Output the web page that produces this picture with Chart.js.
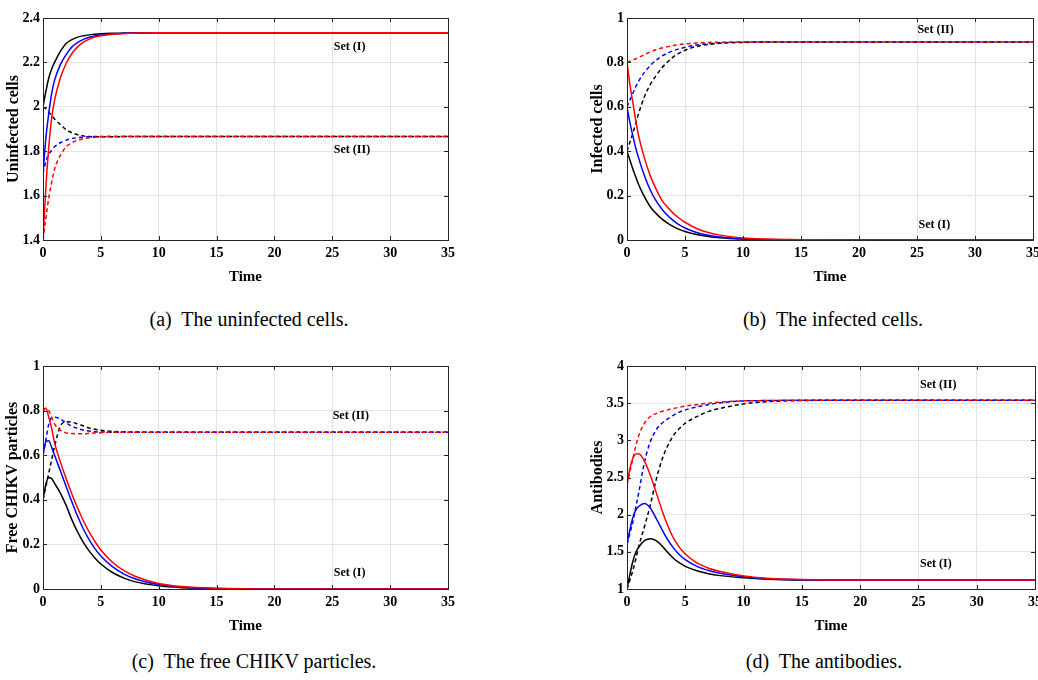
<!DOCTYPE html>
<html>
<head>
<meta charset="utf-8">
<script src="https://cdn.jsdelivr.net/npm/chart.js@4.4.1/dist/chart.umd.min.js"></script>
<style>
  html, body { margin: 0; padding: 0; background: #fff; overflow: hidden; }
  body { width: 1038px; height: 680px; position: relative; }
  .panel { position: absolute; }
  .caption { position: absolute; font-family: "Liberation Serif", "DejaVu Serif", serif; font-size: 20px; line-height: 23px; color: #000; transform: translateX(-50%); white-space: pre; }
</style>
</head>
<body>
<div class="panel" style="left:0px;top:0px;width:460px;height:300px"><canvas id="chartA" width="460" height="300"></canvas></div>
<div class="panel" style="left:580px;top:0px;width:470px;height:300px"><canvas id="chartB" width="470" height="300"></canvas></div>
<div class="panel" style="left:0px;top:350px;width:460px;height:300px"><canvas id="chartC" width="460" height="300"></canvas></div>
<div class="panel" style="left:580px;top:350px;width:470px;height:300px"><canvas id="chartD" width="470" height="300"></canvas></div>

<div class="caption" style="left:249px;top:308px">(a)  The uninfected cells.</div>
<div class="caption" style="left:833px;top:308px">(b)  The infected cells.</div>
<div class="caption" style="left:254px;top:650px">(c)  The free CHIKV particles.</div>
<div class="caption" style="left:824px;top:650px">(d)  The antibodies.</div>

<script>
// temps commun à toutes les courbes
const timePoints = [0, 0.25, 0.5, 0.75, 1, 1.5, 2, 2.5, 3, 3.5, 4, 4.5, 5, 6, 7, 8, 10, 12, 15, 20, 25, 35];
const xTicks = [0, 5, 10, 15, 20, 25, 30, 35];

// (a) cellules non infectées
const uninfBlackI = [2.0, 2.07, 2.13, 2.17, 2.2, 2.25, 2.285, 2.303, 2.314, 2.32, 2.324, 2.327, 2.329, 2.331, 2.332, 2.333, 2.333, 2.333, 2.333, 2.333, 2.333, 2.333];
const uninfBlueI  = [1.7, 1.86, 1.97, 2.06, 2.12, 2.19, 2.235, 2.27, 2.29, 2.304, 2.313, 2.319, 2.323, 2.329, 2.331, 2.332, 2.333, 2.333, 2.333, 2.333, 2.333, 2.333];
const uninfRedI   = [1.4, 1.64, 1.82, 1.95, 2.03, 2.13, 2.195, 2.24, 2.27, 2.291, 2.305, 2.314, 2.32, 2.327, 2.33, 2.332, 2.333, 2.333, 2.333, 2.333, 2.333, 2.333];
const uninfBlackII = [2.0, 1.99, 1.975, 1.96, 1.945, 1.92, 1.897, 1.883, 1.874, 1.869, 1.866, 1.865, 1.865, 1.865, 1.866, 1.866, 1.866, 1.866, 1.866, 1.866, 1.866, 1.866];
const uninfBlueII  = [1.7, 1.755, 1.785, 1.805, 1.82, 1.838, 1.85, 1.857, 1.861, 1.863, 1.865, 1.866, 1.866, 1.866, 1.866, 1.866, 1.866, 1.866, 1.866, 1.866, 1.866, 1.866];
const uninfRedII   = [1.4, 1.5, 1.59, 1.66, 1.72, 1.78, 1.82, 1.838, 1.85, 1.856, 1.86, 1.863, 1.865, 1.866, 1.866, 1.866, 1.866, 1.866, 1.866, 1.866, 1.866, 1.866];

// (b) cellules infectées
const infBlackI = [0.4, 0.36, 0.32, 0.285, 0.25, 0.195, 0.15, 0.12, 0.095, 0.076, 0.06, 0.048, 0.038, 0.025, 0.016, 0.01, 0.004, 0.0015, 0, 0, 0, 0];
const infBlueI  = [0.6, 0.53, 0.47, 0.415, 0.37, 0.29, 0.225, 0.177, 0.14, 0.11, 0.087, 0.068, 0.054, 0.034, 0.021, 0.013, 0.005, 0.002, 0.0005, 0, 0, 0];
const infRedI   = [0.8, 0.7, 0.62, 0.54, 0.47, 0.37, 0.29, 0.23, 0.18, 0.147, 0.12, 0.098, 0.08, 0.052, 0.034, 0.022, 0.009, 0.004, 0.001, 0, 0, 0];
const infBlackII = [0.4, 0.44, 0.48, 0.525, 0.57, 0.645, 0.7, 0.74, 0.775, 0.802, 0.825, 0.842, 0.855, 0.872, 0.881, 0.886, 0.89, 0.892, 0.892, 0.892, 0.892, 0.892];
const infBlueII  = [0.6, 0.63, 0.66, 0.69, 0.715, 0.755, 0.785, 0.81, 0.828, 0.842, 0.853, 0.861, 0.868, 0.878, 0.884, 0.888, 0.891, 0.892, 0.892, 0.892, 0.892, 0.892];
const infRedII   = [0.8, 0.805, 0.81, 0.816, 0.822, 0.835, 0.847, 0.857, 0.865, 0.871, 0.876, 0.88, 0.883, 0.887, 0.89, 0.891, 0.892, 0.892, 0.892, 0.892, 0.892, 0.892];

// (c) particules libres
const virBlackI = [0.4, 0.47, 0.5, 0.495, 0.474, 0.43, 0.375, 0.31, 0.255, 0.208, 0.17, 0.138, 0.112, 0.074, 0.049, 0.032, 0.014, 0.006, 0.0015, 0, 0, 0];
const virBlueI  = [0.6, 0.66, 0.665, 0.635, 0.6, 0.53, 0.46, 0.39, 0.325, 0.268, 0.22, 0.18, 0.148, 0.1, 0.067, 0.045, 0.02, 0.009, 0.002, 0, 0, 0];
const virRedI   = [0.8, 0.81, 0.77, 0.72, 0.655, 0.57, 0.495, 0.425, 0.362, 0.305, 0.255, 0.212, 0.175, 0.12, 0.082, 0.056, 0.025, 0.011, 0.003, 0, 0, 0];
const virBlackII = [0.4, 0.46, 0.52, 0.58, 0.64, 0.73, 0.75, 0.748, 0.74, 0.731, 0.722, 0.716, 0.712, 0.707, 0.705, 0.704, 0.703, 0.703, 0.703, 0.703, 0.703, 0.703];
const virBlueII  = [0.6, 0.67, 0.74, 0.768, 0.77, 0.762, 0.745, 0.73, 0.72, 0.713, 0.708, 0.705, 0.704, 0.703, 0.703, 0.703, 0.703, 0.703, 0.703, 0.703, 0.703, 0.703];
const virRedII   = [0.8, 0.81, 0.8, 0.77, 0.74, 0.712, 0.7, 0.697, 0.696, 0.696, 0.698, 0.7, 0.701, 0.703, 0.703, 0.703, 0.703, 0.703, 0.703, 0.703, 0.703, 0.703];

// (d) anticorps
const abBlackI = [1.0, 1.2, 1.37, 1.49, 1.56, 1.65, 1.676, 1.65, 1.58, 1.49, 1.41, 1.35, 1.305, 1.245, 1.205, 1.18, 1.15, 1.132, 1.122, 1.12, 1.12, 1.12];
const abBlueI  = [1.6, 1.8, 1.96, 2.06, 2.11, 2.15, 2.09, 1.95, 1.8, 1.66, 1.55, 1.46, 1.395, 1.305, 1.25, 1.212, 1.165, 1.138, 1.124, 1.12, 1.12, 1.12];
const abRedI   = [2.4, 2.62, 2.76, 2.815, 2.82, 2.72, 2.53, 2.3, 2.06, 1.85, 1.68, 1.56, 1.47, 1.35, 1.28, 1.235, 1.175, 1.145, 1.127, 1.12, 1.12, 1.12];
const abBlackII = [1.0, 1.12, 1.25, 1.4, 1.57, 1.84, 2.13, 2.47, 2.74, 2.93, 3.07, 3.16, 3.23, 3.32, 3.39, 3.43, 3.49, 3.52, 3.535, 3.54, 3.54, 3.54];
const abBlueII  = [1.6, 1.75, 1.9, 2.1, 2.29, 2.71, 2.98, 3.14, 3.23, 3.29, 3.34, 3.38, 3.41, 3.45, 3.48, 3.505, 3.53, 3.535, 3.54, 3.54, 3.54, 3.54];
const abRedII   = [2.4, 2.58, 2.75, 2.92, 3.06, 3.23, 3.32, 3.36, 3.39, 3.41, 3.43, 3.445, 3.46, 3.48, 3.5, 3.515, 3.53, 3.535, 3.54, 3.54, 3.54, 3.54];

const serif = '"Liberation Serif", "DejaVu Serif", serif';

// cadre façon MATLAB + petites graduations vers l'intérieur + étiquettes "Set"
const boxPlugin = {
    id: 'matlabBox',
    afterDraw(chart, args, opts) {
        const ctx = chart.ctx;
        const a = chart.chartArea;
        const x = chart.scales.x, y = chart.scales.y;
        ctx.save();
        ctx.strokeStyle = '#262626';
        ctx.lineWidth = 1;
        ctx.strokeRect(a.left + 0.5, a.top + 0.5, a.right - a.left, a.bottom - a.top);
        ctx.beginPath();
        x.ticks.forEach(t => {
            const px = Math.round(x.getPixelForValue(t.value)) + 0.5;
            ctx.moveTo(px, a.bottom); ctx.lineTo(px, a.bottom - 4);
            ctx.moveTo(px, a.top); ctx.lineTo(px, a.top + 4);
        });
        y.ticks.forEach(t => {
            const py = Math.round(y.getPixelForValue(t.value)) + 0.5;
            ctx.moveTo(a.left, py); ctx.lineTo(a.left + 4, py);
            ctx.moveTo(a.right, py); ctx.lineTo(a.right - 4, py);
        });
        ctx.stroke();
        ctx.font = 'bold 12px ' + serif;
        ctx.fillStyle = '#000';
        ctx.textAlign = 'center';
        ctx.textBaseline = 'middle';
        (opts.labels || []).forEach(l => {
            ctx.fillText(l.text, x.getPixelForValue(l.x), y.getPixelForValue(l.y));
        });
        ctx.restore();
    }
};

function line(data, color, dashed) {
    return {
        data: data.map((v, i) => ({ x: timePoints[i], y: v })),
        borderColor: color,
        borderWidth: 1.5,
        borderDash: dashed ? [4, 3] : [],
        pointRadius: 0,
        cubicInterpolationMode: 'monotone',
        fill: false
    };
}

function makeChart(id, p) {
    const ctx = document.getElementById(id).getContext('2d');
    return new Chart(ctx, {
        type: 'line',
        data: {
            datasets: [
                line(p.redI, '#ff0000', false),
                line(p.blueI, '#0000ff', false),
                line(p.blackI, '#000000', false),
                line(p.redII, '#ff0000', true),
                line(p.blueII, '#0000ff', true),
                line(p.blackII, '#000000', true)
            ]
        },
        options: {
            responsive: false,
            animation: false,
            layout: { padding: { left: 0, top: p.top, right: p.right, bottom: p.bottom } },
            plugins: {
                legend: { display: false },
                tooltip: { enabled: false },
                matlabBox: { labels: p.labels }
            },
            scales: {
                x: {
                    type: 'linear',
                    min: 0, max: 35,
                    afterBuildTicks: s => { s.ticks = xTicks.map(v => ({ value: v })); },
                    afterFit: s => { s.height = 46; },
                    grid: { color: '#e3e3e3', drawTicks: false },
                    border: { color: '#262626' },
                    ticks: { color: '#000', padding: 5, maxRotation: 0, font: { family: serif, size: 14, weight: 'bold' } },
                    title: { display: true, text: 'Time', color: '#000', padding: 0, font: { family: serif, size: 15, weight: 'bold' } }
                },
                y: {
                    min: p.yMin, max: p.yMax,
                    afterBuildTicks: s => { s.ticks = p.yTicks.map(v => ({ value: v })); },
                    afterFit: s => { s.width = p.left; },
                    grid: { color: '#e3e3e3', drawTicks: false },
                    border: { color: '#262626' },
                    ticks: {
                        color: '#000', padding: 3,
                        font: { family: serif, size: 14, weight: 'bold' },
                        callback: v => String(Number(v.toFixed(1)))
                    },
                    title: { display: true, text: p.yTitle, color: '#000', padding: { top: p.titlePad, bottom: 0 }, font: { family: serif, size: 16, weight: 'bold' } }
                }
            }
        },
        plugins: [boxPlugin]
    });
}

makeChart('chartA', {
    redI: uninfRedI, blueI: uninfBlueI, blackI: uninfBlackI,
    redII: uninfRedII, blueII: uninfBlueII, blackII: uninfBlackII,
    yMin: 1.4, yMax: 2.4, yTicks: [1.4, 1.6, 1.8, 2, 2.2, 2.4],
    yTitle: 'Uninfected cells', titlePad: 4,
    left: 43, top: 18, right: 9, bottom: 14,
    labels: [{ text: 'Set (I)', x: 26.5, y: 2.27 }, { text: 'Set (II)', x: 26.7, y: 1.805 }]
});

makeChart('chartB', {
    redI: infRedI, blueI: infBlueI, blackI: infBlackI,
    redII: infRedII, blueII: infBlueII, blackII: infBlackII,
    yMin: 0, yMax: 1, yTicks: [0, 0.2, 0.4, 0.6, 0.8, 1],
    yTitle: 'Infected cells', titlePad: 8,
    left: 47, top: 18, right: 17, bottom: 14,
    labels: [{ text: 'Set (II)', x: 26.6, y: 0.946 }, { text: 'Set (I)', x: 26.5, y: 0.068 }]
});

makeChart('chartC', {
    redI: virRedI, blueI: virBlueI, blackI: virBlackI,
    redII: virRedII, blueII: virBlueII, blackII: virBlackII,
    yMin: 0, yMax: 1, yTicks: [0, 0.2, 0.4, 0.6, 0.8, 1],
    yTitle: 'Free CHIKV particles', titlePad: 3,
    left: 43, top: 16, right: 7, bottom: 15,
    labels: [{ text: 'Set (II)', x: 26.6, y: 0.776 }, { text: 'Set (I)', x: 26.5, y: 0.072 }]
});

makeChart('chartD', {
    redI: abRedI, blueI: abBlueI, blackI: abBlackI,
    redII: abRedII, blueII: abBlueII, blackII: abBlackII,
    yMin: 1, yMax: 4, yTicks: [1, 1.5, 2, 2.5, 3, 3.5, 4],
    yTitle: 'Antibodies', titlePad: 8,
    left: 47, top: 16, right: 15, bottom: 15,
    labels: [{ text: 'Set (II)', x: 26.7, y: 3.74 }, { text: 'Set (I)', x: 26.5, y: 1.335 }]
});
</script>
</body>
</html>
